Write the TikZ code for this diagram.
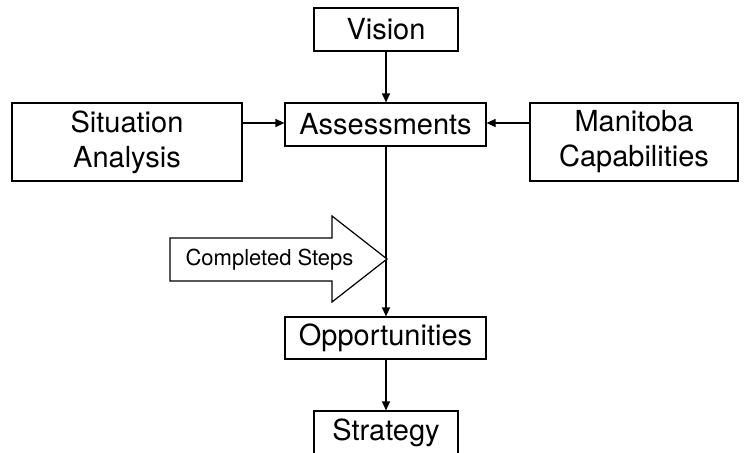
\documentclass[tikz,border=0pt]{standalone}
\usepackage{fontspec}
\setmainfont{TeX Gyre Heros}
\usetikzlibrary{arrows.meta}
\begin{document}
\begin{tikzpicture}[x=1pt,y=-1pt,
  box/.style={draw,line width=1.2pt,inner sep=0pt,align=center,font=\fontsize{29}{35}\selectfont},
  conn/.style={line width=1.2pt,-{Triangle[length=9pt,width=8pt]}}]
\useasboundingbox (0,0) rectangle (748,453);
\node[box,minimum width=144pt,minimum height=43pt] (vision) at (386,29.5) {Vision};
\node[box,minimum width=201pt,minimum height=43pt] (assess) at (385.5,124.5) {Assessments};
\node[box,minimum width=230pt,minimum height=78pt] (sit) at (127,142) {Situation\\Analysis};
\node[box,minimum width=208pt,minimum height=78pt] (man) at (634,142) {Manitoba\\Capabilities};
\node[box,minimum width=201pt,minimum height=42pt] (opp) at (385.5,338) {Opportunities};
\node[box,minimum width=144pt,minimum height=43pt] (strat) at (386,432.5) {Strategy};
\draw[conn] (vision.south -| 386,0) -- (assess.north -| 386,0);
\draw[conn] (sit.east |- 0,123) -- (assess.west |- 0,123);
\draw[conn] (man.west |- 0,123) -- (assess.east |- 0,123);
\draw[conn] (assess.south -| 386,0) -- (opp.north -| 386,0);
\draw[conn] (opp.south -| 386,0) -- (strat.north -| 386,0);
\draw[line width=1.2pt,fill=white] (170,238) -- (332,238) -- (332,216) -- (387,259) -- (332,302) -- (332,281) -- (170,281) -- cycle;
\node[font=\fontsize{22}{26}\selectfont,anchor=west] (steps) at (182,260) {Completed Steps};
\end{tikzpicture}
\end{document}
